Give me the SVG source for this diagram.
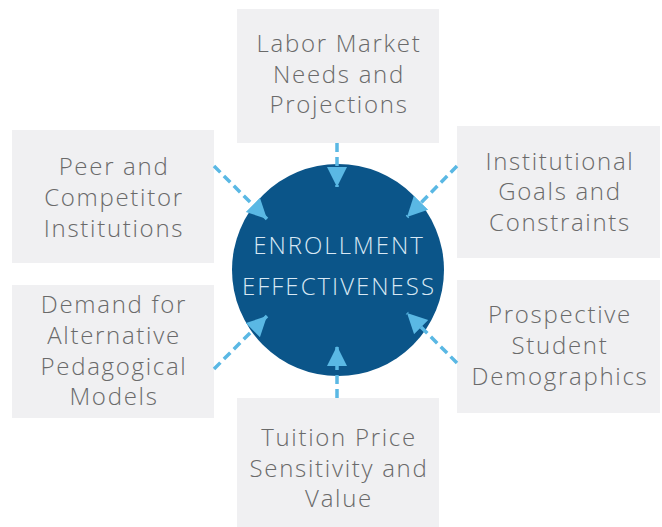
<svg xmlns="http://www.w3.org/2000/svg" width="662" height="527" viewBox="0 0 662 527">
<style>
.box{fill:#f0f0f2}
.lbl{font-family:"Open Sans","Liberation Sans",sans-serif;font-weight:300;font-size:24px;fill:#6a6a6a;text-anchor:middle;letter-spacing:1.7px}
.hub{font-family:"Open Sans","Liberation Sans",sans-serif;font-weight:300;font-size:24px;fill:#d8e8f4;text-anchor:middle;letter-spacing:2px}
.con{stroke:#5ab8e4;stroke-width:3.5;stroke-dasharray:9 5;fill:none}
</style>
<defs>
<marker id="ah" markerUnits="userSpaceOnUse" markerWidth="22" markerHeight="22" refX="20" refY="10" orient="auto">
<path d="M0,0 L20,10 L0,20 z" fill="#5ab8e4"/>
</marker>
</defs>
<rect width="662" height="527" fill="#ffffff"/>
<g id="hub">
<circle cx="338" cy="270" r="106" fill="#0b5589"/>
<text class="hub" x="339" y="254">ENROLLMENT</text>
<text class="hub" x="339" y="295">EFFECTIVENESS</text>
</g>
<g id="labor">
<rect class="box" x="237" y="9" width="202" height="134"/>
<text class="lbl" x="339" y="52">Labor Market</text>
<text class="lbl" x="339" y="83">Needs and</text>
<text class="lbl" x="339" y="113">Projections</text>
</g>
<g id="peer">
<rect class="box" x="12" y="130" width="202" height="133"/>
<text class="lbl" x="114" y="175">Peer and</text>
<text class="lbl" x="114" y="206">Competitor</text>
<text class="lbl" x="114" y="237">Institutions</text>
</g>
<g id="institutional">
<rect class="box" x="457" y="126" width="203" height="132"/>
<text class="lbl" x="560" y="170">Institutional</text>
<text class="lbl" x="560" y="200">Goals and</text>
<text class="lbl" x="560" y="231">Constraints</text>
</g>
<g id="demand">
<rect class="box" x="12" y="285" width="202" height="133"/>
<text class="lbl" x="114" y="313">Demand for</text>
<text class="lbl" x="114" y="344">Alternative</text>
<text class="lbl" x="114" y="375">Pedagogical</text>
<text class="lbl" x="114" y="405">Models</text>
</g>
<g id="prospective">
<rect class="box" x="457" y="280" width="203" height="133"/>
<text class="lbl" x="560" y="323">Prospective</text>
<text class="lbl" x="560" y="354">Student</text>
<text class="lbl" x="560" y="385">Demographics</text>
</g>
<g id="tuition">
<rect class="box" x="237" y="398" width="202" height="129"/>
<text class="lbl" x="339" y="446">Tuition Price</text>
<text class="lbl" x="339" y="477">Sensitivity and</text>
<text class="lbl" x="339" y="507">Value</text>
</g>
<g id="connectors">
<path class="con" d="M337,143 L337,187" marker-end="url(#ah)"/>
<path class="con" d="M214,166 L267,219" marker-end="url(#ah)"/>
<path class="con" d="M457,166 L407,217" marker-end="url(#ah)"/>
<path class="con" d="M214,369 L267,316" marker-end="url(#ah)"/>
<path class="con" d="M457,363 L407,313" marker-end="url(#ah)"/>
<path class="con" d="M337,398 L337,346" marker-end="url(#ah)"/>
</g>
</svg>
